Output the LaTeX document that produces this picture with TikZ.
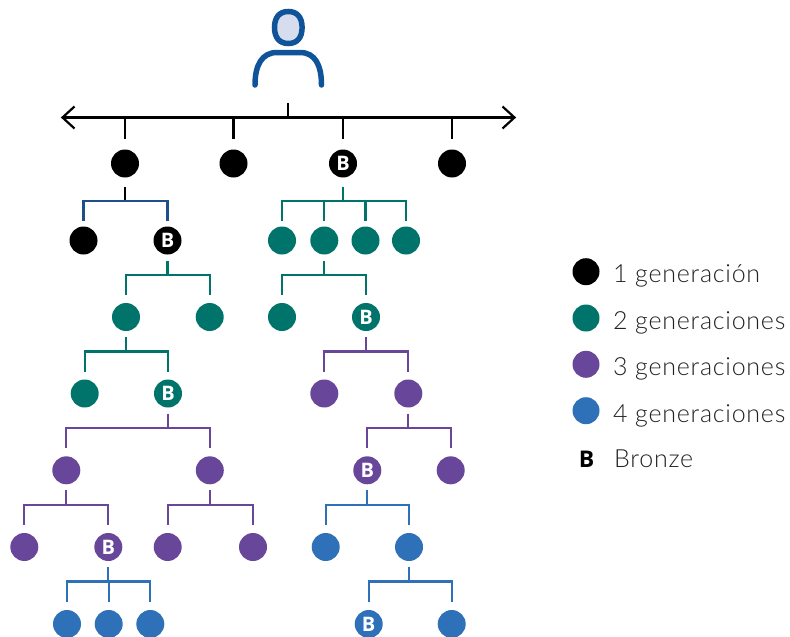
\documentclass[tikz,border=0pt]{standalone}
\usepackage{fontspec}
\setmainfont{Open Sans}
\newfontfamily\lightfont[LetterSpace=3]{Lato Light}
\usetikzlibrary{calc}
\definecolor{cteal}{HTML}{00746B}
\definecolor{cpurple}{HTML}{68479A}
\definecolor{cblue}{HTML}{2E71B8}
\definecolor{cnavy}{HTML}{1F4E8C}
\definecolor{cuser}{HTML}{0F5499}
\definecolor{cuserfill}{HTML}{D5DDEE}
\definecolor{clabel}{HTML}{222222}
\tikzset{
  dot/.style={circle,minimum size=28pt,inner sep=0pt,outer sep=6pt,fill=#1,text=white,font=\bfseries\fontsize{20}{20}\selectfont},
  conn/.style={line width=2.2pt},
  lg/.style={anchor=base west,inner sep=0pt,text=clabel,font=\lightfont\fontsize{25}{25}\selectfont},
  lgdot/.style={circle,minimum size=27pt,inner sep=0pt,fill=#1},
}
\newcommand{\branch}[4]{%
  \coordinate (bar) at ($(#1)+(0,34.5)$);
  \draw[conn,#2] (#1.south) -- (#1|-bar);
  \foreach \c in {#4} \draw[conn,#3] (#1|-bar) -| ([yshift=2pt]\c.north);
}
\begin{document}
\begin{tikzpicture}[x=1pt,y=-1pt]
\useasboundingbox (0,0) rectangle (790,637);
% person
\draw[line width=5.5pt,cuser,fill=cuserfill] (302.1,27.5)
  .. controls (302.1,17.3) and (297.1,11.5) .. (288.3,11.5)
  .. controls (279.5,11.5) and (274.5,17.3) .. (274.5,27.5)
  .. controls (274.5,37.7) and (279.5,43.5) .. (288.3,43.5)
  .. controls (297.1,43.5) and (302.1,37.7) .. (302.1,27.5) -- cycle;
\draw[line width=5.5pt,cuser,line cap=round] (255,85) .. controls (255,65) and (262,52.5) .. (277,52.5) -- (300,52.5) .. controls (315,52.5) and (321.5,65) .. (321.5,85);
% row 1
\node[dot=black] (a1) at (125,163.5) {};
\node[dot=black] (a2) at (233.5,163.5) {};
\node[dot=black] (a3) at (343,163.5) {B};
\node[dot=black] (a4) at (452,163.5) {};
% row 2
\node[dot=black] (b1) at (83.5,240.5) {};
\node[dot=black] (b2) at (167.5,240.5) {B};
\node[dot=cteal] (b3) at (282,240.5) {};
\node[dot=cteal] (b4) at (324.3,240.5) {};
\node[dot=cteal] (b5) at (365.5,240.5) {};
\node[dot=cteal] (b6) at (406,240.5) {};
% row 3
\node[dot=cteal] (c1) at (126,317) {};
\node[dot=cteal] (c2) at (209.7,317) {};
\node[dot=cteal] (c3) at (282,317) {};
\node[dot=cteal] (c4) at (366,317) {B};
% row 4
\node[dot=cteal] (d1) at (84.7,393.5) {};
\node[dot=cteal] (d2) at (168,393.5) {B};
\node[dot=cpurple] (d3) at (324.3,393.5) {};
\node[dot=cpurple] (d4) at (408.3,393.5) {};
% row 5
\node[dot=cpurple] (e1) at (66.3,470.3) {};
\node[dot=cpurple] (e2) at (209.8,470.3) {};
\node[dot=cpurple] (e3) at (367.3,470.3) {B};
\node[dot=cpurple] (e4) at (450.7,470.3) {};
% row 6
\node[dot=cpurple] (f1) at (24.3,547) {};
\node[dot=cpurple] (f2) at (108.3,547) {B};
\node[dot=cpurple] (f3) at (167.7,547) {};
\node[dot=cpurple] (f4) at (253,547) {};
\node[dot=cblue] (f5) at (325.7,547) {};
\node[dot=cblue] (f6) at (409,547) {};
% row 7
\node[dot=cblue] (g1) at (67,624) {};
\node[dot=cblue] (g2) at (108.7,624) {};
\node[dot=cblue] (g3) at (150.3,624) {};
\node[dot=cblue] (g4) at (368.7,624) {B};
\node[dot=cblue] (g5) at (451.7,624) {};
% top rail
\coordinate (railL) at (62.5,117.5);
\coordinate (railR) at (514.5,117.5);
\coordinate (hub) at (288,117.5);
\coordinate (hubtop) at (288,103);
\draw[conn] (railL) -- (railR);
\draw[conn] ($(railL)+(12,-11)$) -- (railL) -- ($(railL)+(12,11)$);
\draw[conn] ($(railR)+(-12,-11)$) -- (railR) -- ($(railR)+(-12,11)$);
\draw[conn] (hubtop) -- (hub);
\foreach \n in {a1,a2,a3,a4} \draw[conn] (\n|-hub) -- ([yshift=5pt]\n.north);
% first branches sit lower than the others
\coordinate (bar1) at (125,201);
\draw[conn] ([yshift=-3pt]a1.south) -- (bar1);
\foreach \c in {b1,b2} \draw[conn,cnavy] (bar1) -| (\c.north);
\coordinate (bar3) at (343,201);
\draw[conn,cteal] ([yshift=-3pt]a3.south) -- (bar3);
\foreach \c in {b3,b4,b5,b6} \draw[conn,cteal] (bar3) -| (\c.north);
% branches
\branch{b2}{cteal}{cteal}{c1,c2}
\branch{b4}{cteal}{cteal}{c3,c4}
\branch{c1}{cteal}{cteal}{d1,d2}
\branch{c4}{cpurple}{cpurple}{d3,d4}
\branch{d2}{cpurple}{cpurple}{e1,e2}
\branch{d4}{cpurple}{cpurple}{e3,e4}
\branch{e1}{cpurple}{cpurple}{f1,f2}
\branch{e2}{cpurple}{cpurple}{f3,f4}
\branch{e3}{cblue}{cblue}{f5,f6}
\branch{f2}{cblue}{cblue}{g1,g2,g3}
\branch{f6}{cblue}{cblue}{g4,g5}
% legend
\node[lgdot=black] (l1) at (586,271.7) {};
\node[lgdot=cteal] (l2) at (586,318) {};
\node[lgdot=cpurple] (l3) at (586,364.3) {};
\node[lgdot=cblue] (l4) at (586,410.7) {};
\node[lg] (t1) at (613,282) {1 generación};
\node[lg] (t2) at (613,329) {2 generaciones};
\node[lg] (t3) at (613,375) {3 generaciones};
\node[lg] (t4) at (613,422) {4 generaciones};
\node[lg] (t5) at (614,467) {Bronze};
\node[anchor=base,inner sep=0pt,font=\bfseries\fontsize{23}{23}\selectfont] (l5) at (586.5,467) {B};
\end{tikzpicture}
\end{document}
